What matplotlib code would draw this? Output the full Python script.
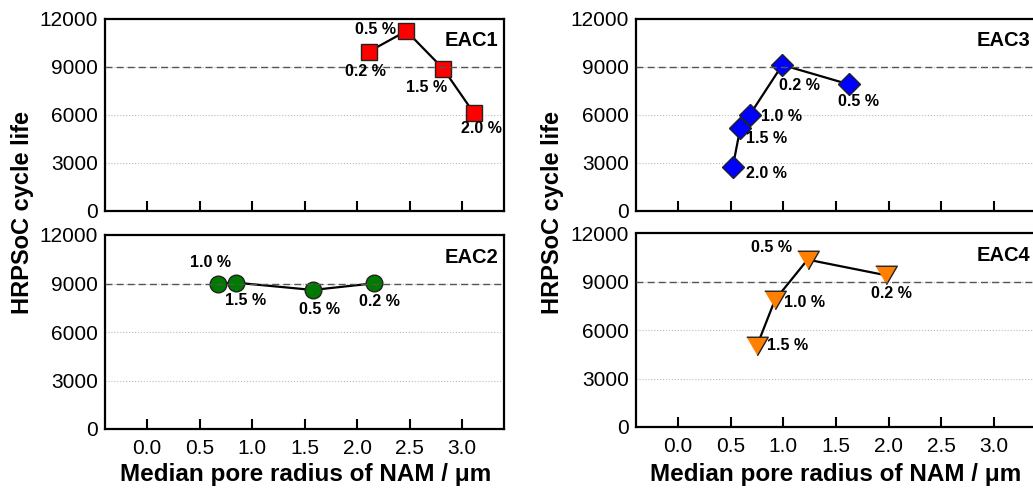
import matplotlib
matplotlib.use("Agg")
import matplotlib.pyplot as plt

plt.rcParams['font.family'] = ['Liberation Sans', 'DejaVu Sans']

# ---- data ----
eac1_x = [2.11, 2.47, 2.82, 3.11]
eac1_y = [9950, 11250, 8900, 6150]
eac1_lab = ["0.2 %", "0.5 %", "1.5 %", "2.0 %"]

eac2_x = [0.68, 0.85, 1.58, 2.16]
eac2_y = [8980, 9050, 8600, 9010]
eac2_lab = ["1.0 %", "1.5 %", "0.5 %", "0.2 %"]

eac3_x = [0.52, 0.59, 0.68, 0.99, 1.62]
eac3_y = [2770, 5170, 6000, 9130, 7920]
eac3_lab = ["2.0 %", "1.5 %", "1.0 %", "0.2 %", "0.5 %"]

eac4_x = [0.75, 0.92, 1.23, 1.975]
eac4_y = [5050, 7880, 10380, 9410]
eac4_lab = ["1.5 %", "1.0 %", "0.5 %", "0.2 %"]

x_ticks = [0.0, 0.5, 1.0, 1.5, 2.0, 2.5, 3.0]
y_ticks = [0, 3000, 6000, 9000, 12000]
reference_life = 9000

# ---- styling / layout ----
W, H = 1033, 488
fig = plt.figure(figsize=(W / 100, H / 100), dpi=100)

def rect(x0, x1, ytop, ybot):
    return [x0 / W, (H - ybot) / H, (x1 - x0) / W, (ybot - ytop) / H]

tri_down = [(-1, 0.86), (1, 0.86), (0, -0.86)]

panels = [
    dict(r=rect(105, 504, 19, 211), x=eac1_x, y=eac1_y, lab=eac1_lab, name="EAC1",
         marker='s', ms=11, color='#ff0000', xlabels=False,
         offs=[(-2, -14.5), (-22, 1), (-12, -13.5), (6, -11.5)]),
    dict(r=rect(105, 504, 235, 429), x=eac2_x, y=eac2_y, lab=eac2_lab, name="EAC2",
         marker='o', ms=12, color='#007a00', xlabels=True,
         offs=[(-6, 15.5), (7, -12.5), (5, -14), (4, -13)]),
    dict(r=rect(636, 1036, 19, 211), x=eac3_x, y=eac3_y, lab=eac3_lab, name="EAC3",
         marker='D', ms=11, color='#0000ff', xlabels=False,
         offs=[(24, -5), (19, -7), (23, -1), (12, -14.5), (7, -12.5)]),
    dict(r=rect(636, 1036, 233.5, 427), x=eac4_x, y=eac4_y, lab=eac4_lab, name="EAC4",
         marker=tri_down, ms=15.5, color='#ff8000', xlabels=True,
         offs=[(22, 0), (21.5, -1.5), (-26, 9), (4, -13)]),
]

for p in panels:
    ax = fig.add_axes(p['r'])
    ax.set_xlim(-0.4, 3.4)
    ax.set_ylim(0, 12000)
    for yv in (3000, 6000, 9000):
        ax.axhline(yv, color='#bbbbbb', lw=0.8, ls=':', zorder=1)
    ax.plot(p['x'], p['y'], color='black', lw=1.6, zorder=2)
    ax.plot(p['x'], p['y'], ls='none', marker=p['marker'], ms=p['ms'],
            mfc=p['color'], mec='#222222', mew=1.0, zorder=3)
    ax.axhline(reference_life, color='#555555', lw=1.0, ls=(0, (5, 3)), zorder=3.5)
    for xv, yv, t, o in zip(p['x'], p['y'], p['lab'], p['offs']):
        ax.annotate(t, (xv, yv), xytext=o, textcoords='offset points',
                    ha='center', va='center', fontsize=11.5, fontweight='bold', zorder=4)
    ax.text(0.985, 0.935, p['name'], transform=ax.transAxes, ha='right', va='top',
            fontsize=14.5, fontweight='bold')
    ax.set_xticks(x_ticks)
    ax.set_yticks(y_ticks)
    if p['xlabels']:
        ax.set_xticklabels([f"{v:.1f}" for v in x_ticks])
    else:
        ax.set_xticklabels([])
    ax.tick_params(axis='x', direction='in', length=7, width=1.5, labelsize=15, pad=7)
    ax.tick_params(axis='y', length=0, labelsize=15, pad=5)
    for s in ax.spines.values():
        s.set_linewidth(1.6)

# axis labels
for xc in (22.5 / W, 552 / W):
    fig.text(xc, 1 - 213 / H, "HRPSoC cycle life", rotation=90, ha='center', va='center',
             fontsize=17, fontweight='bold')
for xc in (306 / W, 836 / W):
    fig.text(xc, 1 - 481 / H, "Median pore radius of NAM / \u03bcm", ha='center', va='baseline',
             fontsize=17.5, fontweight='bold')

fig.savefig("out.png", dpi=100)
